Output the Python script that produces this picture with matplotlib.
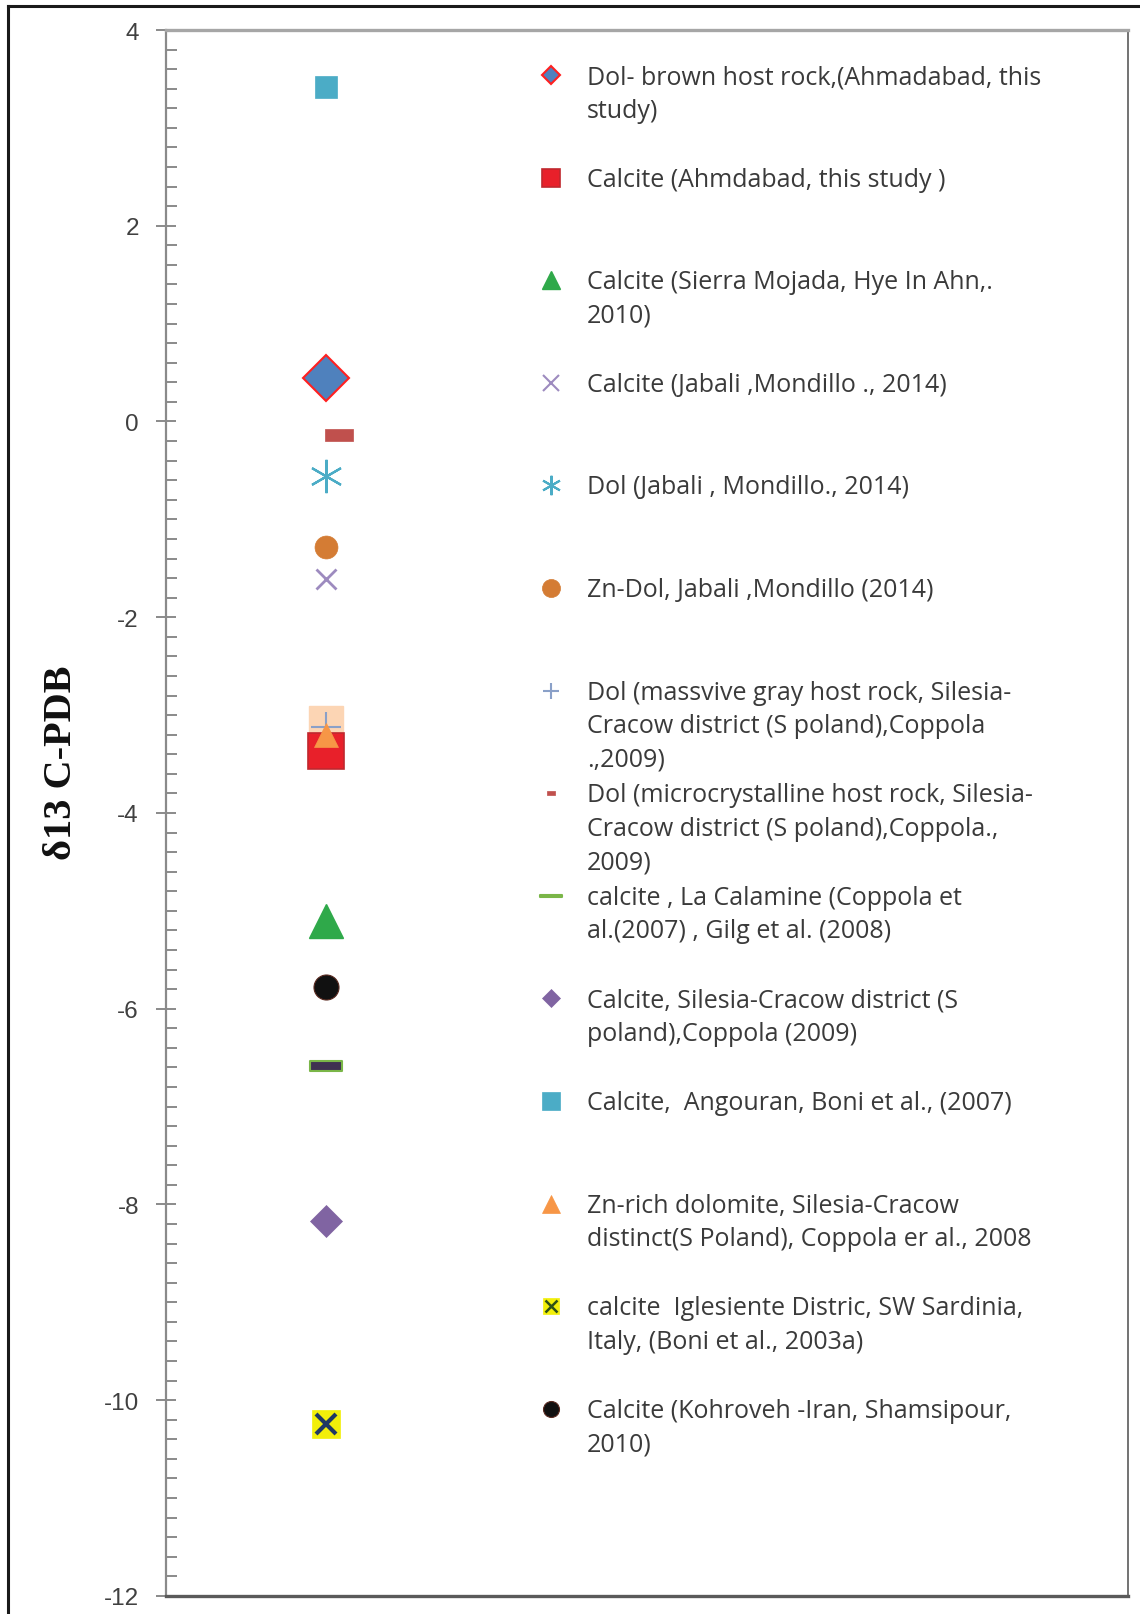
import matplotlib
matplotlib.use("Agg")
import matplotlib.pyplot as plt
from matplotlib.lines import Line2D
from matplotlib.path import Path
from matplotlib.ticker import MultipleLocator

plt.rcParams["axes.unicode_minus"] = False

# legend labels, in the order they appear in the legend
labels = [
    "Dol- brown host rock,(Ahmadabad, this\nstudy)",
    "Calcite (Ahmdabad, this study )",
    "Calcite (Sierra Mojada, Hye In Ahn,.\n2010)",
    "Calcite (Jabali ,Mondillo ., 2014)",
    "Dol (Jabali , Mondillo., 2014)",
    "Zn-Dol, Jabali ,Mondillo (2014)",
    "Dol (massvive gray host rock, Silesia-\nCracow district (S poland),Coppola\n.,2009)",
    "Dol (microcrystalline host rock, Silesia-\nCracow district (S poland),Coppola.,\n2009)",
    "calcite , La Calamine (Coppola et\nal.(2007) , Gilg et al. (2008)",
    "Calcite, Silesia-Cracow district (S\npoland),Coppola (2009)",
    "Calcite,  Angouran, Boni et al., (2007)",
    "Zn-rich dolomite, Silesia-Cracow\ndistinct(S Poland), Coppola er al., 2008",
    "calcite  Iglesiente Distric, SW Sardinia,\nItaly, (Boni et al., 2003a)",
    "Calcite (Kohroveh -Iran, Shamsipour,\n2010)",
]

# d13C (per mil PDB) values
d13c = [0.44, -3.37, -5.10, -1.61, -0.56, -1.28, -3.12,
        -0.14, -6.59, -8.17, 3.42, -3.20, -10.24, -5.78]
x_pos = [1.0, 1.0, 1.0, 1.0, 1.0, 1.0, 1.0,
         1.08, 1.0, 1.0, 1.0, 1.0, 1.0, 1.0]

# extra pale square sitting behind the -3 cluster
extra_y = [-3.08]

dash_wide = Path([(-1, -0.48), (1, -0.48), (1, 0.48), (-1, 0.48), (-1, -0.48)], closed=True)
dash_thin = Path([(-1, -0.3), (1, -0.3), (1, 0.3), (-1, 0.3), (-1, -0.3)], closed=True)
line_thin = Path([(-1, -0.08), (1, -0.08), (1, 0.08), (-1, 0.08), (-1, -0.08)], closed=True)

# marker, size, face, edge, edge width, legend size
styles = [
    dict(marker="D", ms=23, mfc="#4f81bd", mec="#ff2020", mew=1.5, lms=9),
    dict(marker="s", ms=26, mfc="#e8202a", mec="#c0282e", mew=1.2, lms=13),
    dict(marker="^", ms=24, mfc="#2fa94a", mec="#2fa94a", mew=1, lms=13),
    dict(marker="x", ms=15, mfc="#9d8bbf", mec="#9d8bbf", mew=2, lms=11),
    dict(marker=(6, 2, 0), ms=24, mfc="#4bacc6", mec="#4bacc6", mew=1.6, lms=14),
    dict(marker="o", ms=16.5, mfc="#d47c34", mec="#d47c34", mew=0.5, lms=13),
    dict(marker="+", ms=21, mfc="#6d8fc0", mec="#8aa0c8", mew=1.5, lms=12),
    dict(marker=dash_wide, ms=19.5, mfc="#c0504d", mec="#c0504d", mew=0.5, lms=6),
    dict(marker=dash_thin, ms=23.5, mfc="#3f3151", mec="#7ab648", mew=1.5, lms=16),
    dict(marker="D", ms=16.8, mfc="#8064a2", mec="#8064a2", mew=0.5, lms=9),
    dict(marker="s", ms=16, mfc="#4bacc6", mec="#4bacc6", mew=0.5, lms=13),
    dict(marker="^", ms=17, mfc="#f79646", mec="#f79646", mew=0.5, lms=13),
    dict(marker="s", ms=19.5, mfc="#f2ef0a", mec="#f2ef0a", mew=0.5, lms=12),
    dict(marker="o", ms=18, mfc="#111111", mec="#5a2a20", mew=0.8, lms=11.5),
]
zorders = [5, 4, 5, 5, 5, 5, 4.5, 5, 5, 5, 5, 4.8, 5, 5]

fig = plt.figure(figsize=(11.4, 16.15), dpi=100)
ax = fig.add_axes([0.1456, 0.0112, 0.8439, 0.9696])

ax.plot([1.0], extra_y, linestyle="none", marker="s", ms=25, mfc="#fcd5b4",
        mec="#fcd5b4", zorder=3, clip_on=False)

for i, st in enumerate(styles):
    ax.plot([x_pos[i]], [d13c[i]], linestyle="none", marker=st["marker"], ms=st["ms"],
            mfc=st["mfc"], mec=st["mec"], mew=st["mew"], zorder=zorders[i], clip_on=False)
    if i == 12:
        ax.plot([x_pos[i]], [d13c[i]], linestyle="none", marker="x", ms=14,
                mec="#1f3864", mew=3, zorder=6)

# hand-placed legend, one entry every ~103 px
for i, st in enumerate(styles):
    ly = (1597 - (76 + 102.6 * i)) / 1566
    mk = st["marker"]
    if i == 8:
        mk = line_thin
        mfc, mec = "#7ab648", "#7ab648"
    else:
        mfc, mec = st["mfc"], st["mec"]
    ax.plot([0.400], [ly], transform=ax.transAxes, linestyle="none", marker=mk,
            ms=st["lms"], mfc=mfc, mec=mec, mew=min(st["mew"], 1.5), clip_on=False)
    if i == 12:
        ax.plot([0.400], [ly], transform=ax.transAxes, linestyle="none", marker="x",
                ms=9, mec="#2d5016", mew=1.8, clip_on=False)
    ax.text(0.4376, ly + 11 / 1566, labels[i], transform=ax.transAxes, ha="left",
            va="top", fontsize=18, family="Open Sans", color="#3a3a3a",
            linespacing=1.45)

ax.set_xlim(0, 6)
ax.set_ylim(-12, 4)
ax.set_xticks([])
ax.yaxis.set_major_locator(MultipleLocator(2))
ax.yaxis.set_minor_locator(MultipleLocator(0.2))
ax.tick_params(axis="y", which="major", direction="inout", length=15, width=1.4,
               color="#8a8a8a", labelsize=17.5, labelcolor="#404040", pad=12)
ax.tick_params(axis="y", which="minor", direction="in", length=8, width=1.4,
               color="#8a8a8a")
for lab in ax.get_yticklabels():
    lab.set_family("Liberation Sans")

ax.spines["left"].set_color("#8a8a8a")
ax.spines["left"].set_linewidth(1.6)
ax.spines["top"].set_color("#a6a6a6")
ax.spines["top"].set_linewidth(2.4)
ax.spines["right"].set_color("#5a5a5a")
ax.spines["right"].set_linewidth(1.2)
ax.spines["bottom"].set_color("#5a5a5a")
ax.spines["bottom"].set_linewidth(2.4)

ax.set_ylabel("δ13 C-PDB", family="Liberation Serif", fontweight="bold",
              fontsize=29, color="#111111")
ax.yaxis.set_label_coords(-0.089, 0.533)

# outer frame of the figure (top and left edges)
fig.add_artist(Line2D([8 / 1140, 1.0], [1 - 7 / 1615] * 2, color="#1a1a1a", lw=2.2))
fig.add_artist(Line2D([8 / 1140] * 2, [0.0, 1 - 7 / 1615], color="#1a1a1a", lw=2.2))

fig.savefig("out.png", dpi=100, facecolor="white")
